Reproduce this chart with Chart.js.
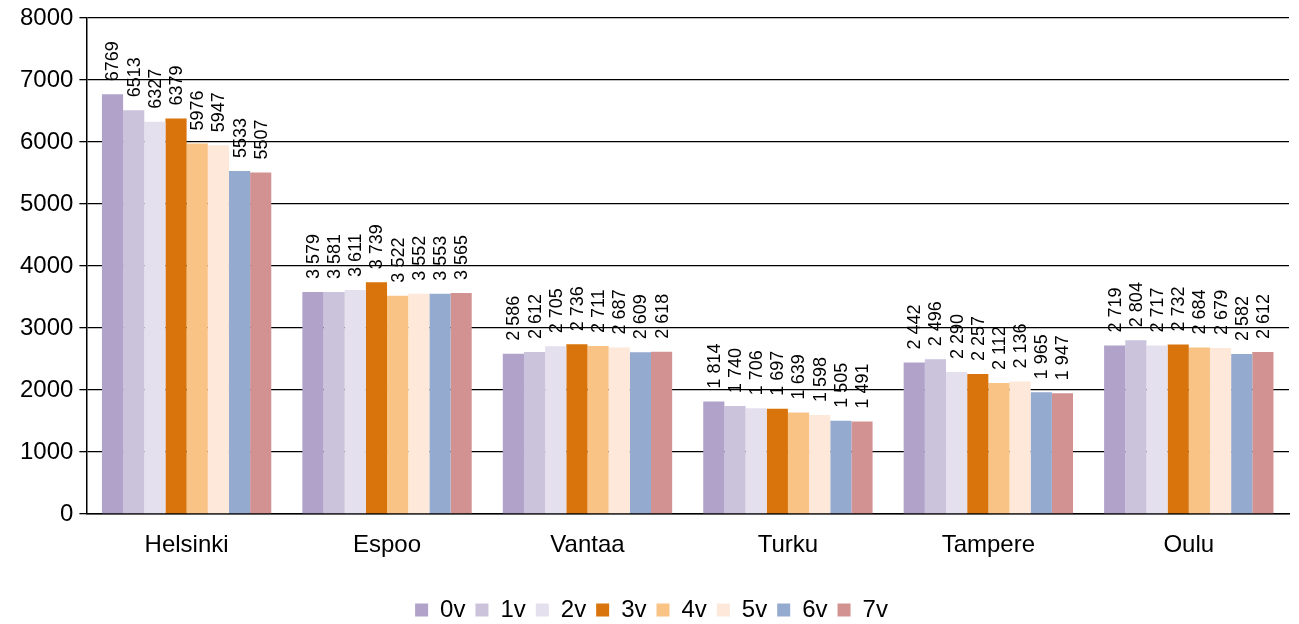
<!DOCTYPE html>
<html>
<head>
<meta charset="utf-8">
<script src="https://cdn.jsdelivr.net/npm/chart.js@4/dist/chart.umd.min.js"></script>
<style>
  html, body { margin: 0; padding: 0; background: #fff; }
  #wrap { width: 1299px; height: 624px; }
</style>
</head>
<body>
<div id="wrap"><canvas id="chart" width="1299" height="624"></canvas></div>
<script>
const cities = ['Helsinki', 'Espoo', 'Vantaa', 'Turku', 'Tampere', 'Oulu'];
const seriesNames = ['0v', '1v', '2v', '3v', '4v', '5v', '6v', '7v'];
const seriesColors = ['#b1a2c9', '#cbc2dc', '#e5e0ed', '#d9730b', '#f9c386', '#fde8d9', '#94aacf', '#d39292'];

// values per series (one entry per city)
const v0 = [6769, 3579, 2586, 1814, 2442, 2719];
const v1 = [6513, 3581, 2612, 1740, 2496, 2804];
const v2 = [6327, 3611, 2705, 1706, 2290, 2717];
const v3 = [6379, 3739, 2736, 1697, 2257, 2732];
const v4 = [5976, 3522, 2711, 1639, 2112, 2684];
const v5 = [5947, 3552, 2687, 1598, 2136, 2679];
const v6 = [5533, 3553, 2609, 1505, 1965, 2582];
const v7 = [5507, 3565, 2618, 1491, 1947, 2612];
const seriesValues = [v0, v1, v2, v3, v4, v5, v6, v7];

// Helsinki labels are written without the thousands space
const spacedLabels = [false, true, true, true, true, true];
const yTicks = [0, 1000, 2000, 3000, 4000, 5000, 6000, 7000, 8000];

const FONT = 'Arial, "Liberation Sans", sans-serif';

function fmt(v, cityIdx) {
  const s = String(v);
  if (!spacedLabels[cityIdx] || s.length < 4) return s;
  return s.slice(0, s.length - 3) + ' ' + s.slice(s.length - 3);
}

const valueLabels = {
  id: 'valueLabels',
  afterDatasetsDraw(chart) {
    const ctx = chart.ctx;
    ctx.save();
    ctx.font = '18px ' + FONT;
    ctx.fillStyle = '#000';
    ctx.textAlign = 'left';
    ctx.textBaseline = 'middle';
    chart.data.datasets.forEach((ds, di) => {
      const meta = chart.getDatasetMeta(di);
      meta.data.forEach((bar, i) => {
        ctx.save();
        ctx.translate(bar.x, bar.y - 13);
        ctx.rotate(-Math.PI / 2);
        ctx.fillText(fmt(ds.data[i], i), 0, 1);
        ctx.restore();
      });
    });
    ctx.restore();
  }
};

new Chart(document.getElementById('chart').getContext('2d'), {
  type: 'bar',
  data: {
    labels: cities,
    datasets: seriesNames.map((name, i) => ({
      label: name,
      data: seriesValues[i],
      backgroundColor: seriesColors[i],
      borderWidth: 0,
      categoryPercentage: 0.845,
      barPercentage: 1.0
    }))
  },
  options: {
    responsive: false,
    animation: false,
    layout: { padding: { left: 14, right: 10, top: 6, bottom: -8 } },
    plugins: {
      tooltip: { enabled: false },
      legend: {
        position: 'bottom',
        labels: {
          font: { family: FONT, size: 24 },
          color: '#000',
          boxWidth: 13,
          boxHeight: 13,
          padding: 10
        }
      }
    },
    scales: {
      x: {
        grid: { display: false },
        border: { color: '#000', width: 1.5 },
        ticks: { color: '#000', font: { family: FONT, size: 24 }, padding: 9 },
        afterFit(scale) { scale.height = 74; }
      },
      y: {
        min: 0,
        max: 8000,
        afterBuildTicks(scale) { scale.ticks = yTicks.map(v => ({ value: v })); },
        grid: { color: '#000', lineWidth: 1.3, tickLength: 7 },
        border: { color: '#000', width: 1.5 },
        ticks: {
          color: '#000',
          font: { family: FONT, size: 24, lineHeight: 1.0 },
          padding: 6,
          callback: v => String(v)
        }
      }
    }
  },
  plugins: [valueLabels]
});
</script>
</body>
</html>
